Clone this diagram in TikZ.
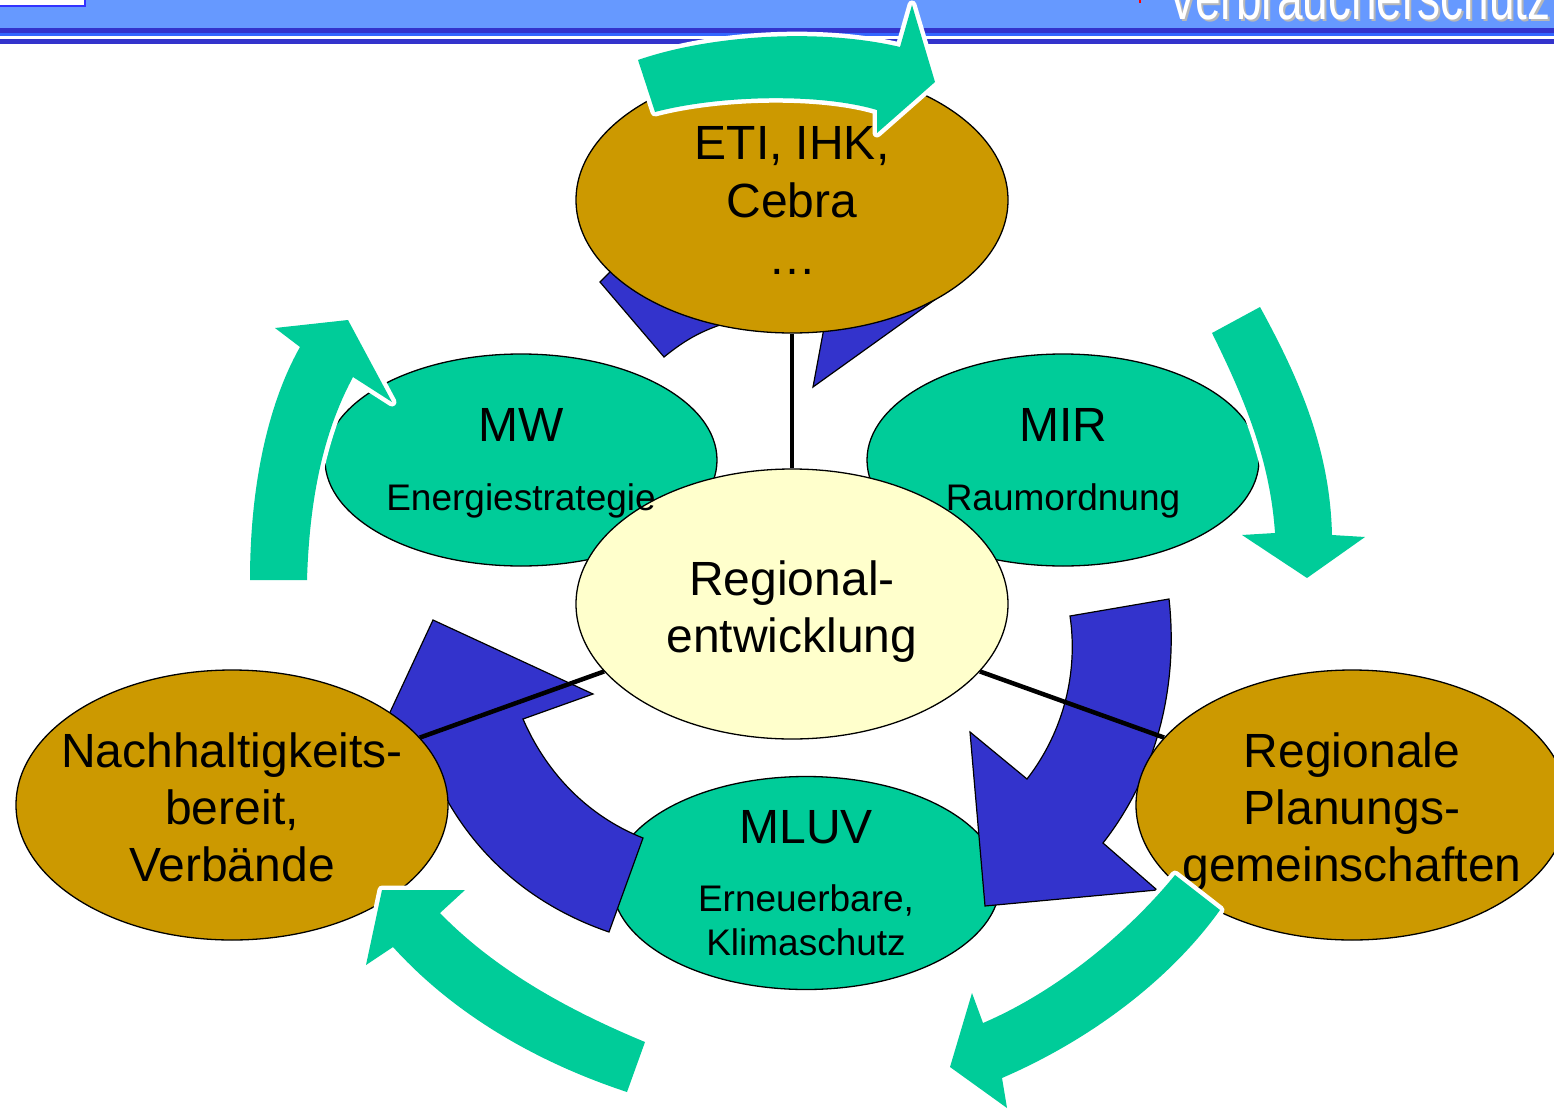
\documentclass[tikz,border=0pt]{standalone}
\usepackage{fontspec}
\setmainfont{Liberation Sans}
\usetikzlibrary{shapes.geometric}
\definecolor{gold}{HTML}{CC9900}
\definecolor{mint}{HTML}{00CC99}
\definecolor{cream}{HTML}{FFFFCC}
\definecolor{royal}{HTML}{3333CC}
\definecolor{sky}{HTML}{6699FF}
\definecolor{stripe}{HTML}{3366FF}
\definecolor{boxline}{HTML}{3333FF}
\definecolor{shade}{HTML}{B8B8B8}
\begin{document}
\begin{tikzpicture}[x=1pt,y=-1pt,
  oval/.style={ellipse, draw=black, line width=1.3pt, inner sep=0pt},
  big/.style={font=\fontsize{48}{57}\selectfont, anchor=base, inner sep=0pt},
  small/.style={font=\fontsize{37}{44}\selectfont, anchor=base, inner sep=0pt},
  heading/.style={font=\fontsize{46}{50}\selectfont, anchor=base west, inner sep=0pt},
  bluearrow/.style={fill=royal, draw=black, line width=1.2pt, line join=miter},
  greenarrow/.style={fill=mint, preaction={draw=white, line width=9pt, line join=round}},
  link/.style={line width=4.5pt}]
\useasboundingbox (0,0) rectangle (1554,1110);
\clip (0,0) rectangle (1554,1110);

% title bar with its stripes
\fill[sky] (0,0) rectangle (1554,28);
\fill[royal] (0,28) rectangle (1554,33.5);
\fill[stripe] (0,33.5) rectangle (1554,36.5);
\fill[royal] (0,39) rectangle (1554,44.3);
\draw[boxline, line width=2pt, fill=white] (-5,-5) rectangle (85,6.5);
\draw[red, line width=1.5pt] (1140,-1) -- (1140,3);
\node[heading, text=shade] (titleshadow) at (1169,22) {\scalebox{1}[1.4]{Verbraucherschutz}};
\node[heading, text=white] (title) at (1167,20) {\scalebox{1}[1.4]{Verbraucherschutz}};

% ministries (lower layer)
\node[oval, fill=mint, minimum width=388pt, minimum height=213pt] (mluv) at (806,883) {};
\node[oval, fill=mint, minimum width=392pt, minimum height=212pt] (mw) at (521,460) {};
\node[oval, fill=mint, minimum width=392pt, minimum height=212pt] (mir) at (1063,460) {};

% blue block arrows
\draw[bluearrow] (600,282) -- (664,357) .. controls (685,340) and (700,332) .. (720,325)
  -- (740,310) -- (640,242) -- cycle;
\draw[bluearrow] (813,387) -- (829,301) -- (900,260) -- (940,296) -- cycle;
\draw[bluearrow] (433,620) -- (593,694) -- (523,719) .. controls (545,770) and (585,815) .. (643,838)
  -- (609,932) .. controls (530,905) and (465,850) .. (430,765) -- (385,723) -- cycle;
\draw[bluearrow] (1070,616) -- (1169,599) .. controls (1178,680) and (1160,770) .. (1103,843)
  -- (1157,890) -- (985,906) -- (970,732) -- (1027,779) .. controls (1065,730) and (1078,670) .. (1070,616) -- cycle;

% partners and the centre
\node[oval, fill=gold, minimum width=432pt, minimum height=266pt] (eti) at (792,200) {};
\node[oval, fill=cream, minimum width=432pt, minimum height=270pt] (reg) at (792,604) {};
\node[oval, fill=gold, minimum width=432pt, minimum height=270pt] (nach) at (232,805) {};
\node[oval, fill=gold, minimum width=432pt, minimum height=270pt] (plan) at (1352,805) {};

% spokes
\draw[link] (eti) -- (reg);
\draw[link] (reg) -- (nach);
\draw[link] (reg) -- (plan);

% labels
\node[big] (etiA) at (792,160) {ETI, IHK,};
\node[big] (etiB) at (792,217) {Cebra};
\node[big] (etiC) at (792,274) {…};
\node[big] (mwA) at (521,441) {MW};
\node[small] (mwB) at (521,510) {Energiestrategie};
\node[big] (mirA) at (1063,441) {MIR};
\node[small] (mirB) at (1063,510) {Raumordnung};
\node[big] (regA) at (792,595) {Regional-};
\node[big] (regB) at (792,652) {entwicklung};
\node[big] (nachA) at (232,767) {Nachhaltigkeits-};
\node[big] (nachB) at (232,824) {bereit,};
\node[big] (nachC) at (232,881) {Verbände};
\node[big] (planA) at (1352,767) {Regionale};
\node[big] (planB) at (1352,824) {Planungs-};
\node[big] (planC) at (1352,881) {gemeinschaften};
\node[big] (mluvA) at (806,843) {MLUV};
\node[small] (mluvB) at (806,911) {Erneuerbare,};
\node[small] (mluvC) at (806,955) {Klimaschutz};

% green cycle arrows
\path[greenarrow] (638,60) .. controls (710,35) and (820,28) .. (900,47) -- (912,5) -- (935,82)
  -- (877,133) -- (877,110) .. controls (820,93) and (720,95) .. (655,112) -- cycle;
\path[greenarrow] (1212,333) -- (1260,307) .. controls (1300,380) and (1330,450) .. (1332,535)
  -- (1365,537) -- (1307,578) -- (1242,535) -- (1275,533) .. controls (1270,460) and (1245,400) .. (1212,333) -- cycle;
\path[greenarrow] (1175,875) .. controls (1130,930) and (1060,990) .. (983,1023) -- (972,993)
  -- (950,1067) -- (1007,1108) -- (1002,1078) .. controls (1090,1040) and (1170,980) .. (1220,910) -- cycle;
\path[greenarrow] (645,1042) .. controls (580,1015) and (500,975) .. (440,913) -- (465,890)
  -- (382,890) -- (366,965) -- (393,947) .. controls (450,1010) and (530,1060) .. (627,1092) -- cycle;
\path[greenarrow] (250,580) .. controls (250,480) and (270,400) .. (300,347) -- (275,328)
  -- (348,320) -- (392,402) -- (353,377) .. controls (330,420) and (310,480) .. (307,580) -- cycle;
\end{tikzpicture}
\end{document}
